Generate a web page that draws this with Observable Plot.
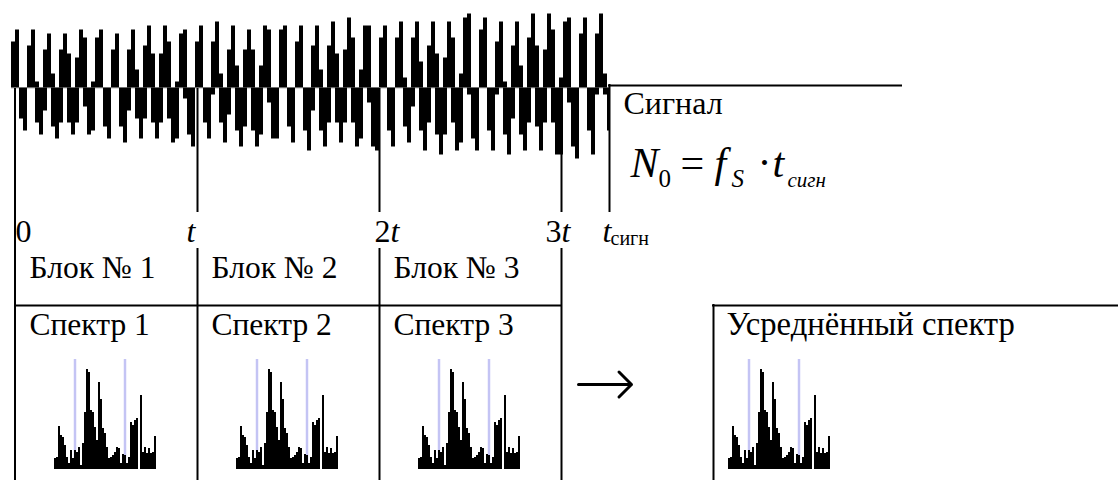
<!DOCTYPE html>
<html><head><meta charset="utf-8">
<script src="https://cdn.jsdelivr.net/npm/d3@7"></script>
<script src="https://cdn.jsdelivr.net/npm/@observablehq/plot@0.6"></script>
<style>html,body{margin:0;padding:0;background:#fff}svg{display:block}</style>
</head><body><div id="chart"></div>
<script>
// Signal: per-column extents (px above / below the zero line)
const signalUp = [46,58,0,0,42,58,6,0,38,54, 14,0,38,54,34,0,30,58,50,0, 6,50,58,0,0,38,54,0,0,38, 58,18,0,42,62,34,0,34,62,46, 0,6,54,58,0,0,46,62,0,0,
  46,66,14,0,38,62,22,0,38,58, 38,0,22,62,58,0,0,58,62,0, 0,46,62,0,0,42,62,18,0,42, 66,34,0,38,70,50,0,18,62,62, 0,0,50,62,0,0,50,66,10,0,
  50,66,26,0,42,66,34,0,30,66, 50,0,14,70,74,0,0,58,70,0, 0,46,66,6,0,42,66,22,0,50, 74,42,0,38,74,58,0,10,66,70, 0,0,54,70,0,0,54,74,14,0];
const signalDown = [0,0,31,43,0,0,35,47,23,0, 39,51,35,0,35,47,35,0,19,47, 43,0,0,39,51,0,0,39,55,23, 0,31,51,31,0,35,51,35,0,31, 55,51,0,11,47,59,0,0,35,51,
  7,0,35,55,27,0,43,59,39,0, 43,59,47,0,15,51,51,0,0,39, 55,0,0,43,63,23,0,43,59,35, 0,35,55,35,0,35,59,51,0,15, 59,63,0,0,43,59,0,0,39,55,
  19,0,43,63,35,0,47,67,47,0, 35,63,55,0,7,51,63,0,0,43, 63,7,0,47,67,31,0,47,63,35, 0,39,63,35,0,35,67,67,0,15, 59,71,0,0,43,67,7,0,7,43];
// Spectrum heights, in px above its base line
const spectrum = [11,12,43,34,32,24,12,6,19,11,19,17,22,4,26,57,100,97,59,57,42,29,87,70,41,36,22,11,12,14,17,22,21,6,15,14,6,12,47,44,49,51,0,74,17,22,16,21,16,17,33];
const spectrumOffsets = [54,236,418,728];
const markerOffsets = [20.5,70.5];

const signalLeft = 11, signalBase = 87.5, colW = 4, specBase = 469, specW = 2;

const rules = [
  {x:14.5,y1:88,y2:480},{x:197,y1:88,y2:212},{x:197,y1:248,y2:480},
  {x:379,y1:88,y2:212},{x:379,y1:248,y2:480},{x:561,y1:88,y2:212},{x:561,y1:248,y2:480},
  {x:609,y1:84,y2:212},{x:713,y1:304,y2:480}
];
const hRules = [
  {y:85,x1:608,x2:902},{y:305,x1:14,x2:561},{y:305,x1:712,x2:1118}
];
const arrows = [{x1:578,x2:631,y:384}];
const serif = "'Liberation Serif','Times New Roman',serif";
const labels = [
  {t:"Сигнал",x:623,y:113,s:32},
  {t:"0",x:15,y:241,s:32},{t:"t",x:186,y:241,s:32,i:1},
  {t:"2",x:374,y:241,s:32},{t:"t",x:390,y:241,s:32,i:1},
  {t:"3",x:545,y:241,s:32},{t:"t",x:561,y:241,s:32,i:1},
  {t:"t",x:602,y:241,s:32,i:1},{t:"сигн",x:610,y:244,s:20},
  {t:"Блок № 1",x:29,y:277,s:31.5},{t:"Блок № 2",x:211,y:277,s:31.5},{t:"Блок № 3",x:393,y:277,s:31.5},
  {t:"Спектр 1",x:29,y:334,s:31.5},{t:"Спектр 2",x:211,y:334,s:31.5},{t:"Спектр 3",x:393,y:334,s:31.5},
  {t:"Усреднённый спектр",x:726,y:334,s:32.7},
  {t:"N",x:630,y:176,s:42,i:1},{t:"0",x:658,y:186,s:25},
  {t:"=",x:680,y:176,s:42},{t:"f",x:714,y:176,s:42,i:1},{t:"S",x:731,y:186,s:25,i:1},
  {t:"·",x:757,y:176,s:42},{t:"t",x:772,y:176,s:42,i:1},{t:"сигн",x:787,y:186,s:21,i:1}
];

const up = signalUp.map((v,i)=>({i,v})).filter(d=>d.v>0);
const down = signalDown.map((v,i)=>({i,v})).filter(d=>d.v>0);
const specRows = spectrumOffsets.flatMap(o=>spectrum.map((v,i)=>({o,i,v})));
const markers = spectrumOffsets.flatMap(o=>markerOffsets.map(m=>({x:o+m})));
const colEnd = i=>Math.min(signalLeft+colW*(i+1),610);

const plot = Plot.plot({
  width:1118,height:480,margin:0,
  x:{domain:[0,1118],range:[0,1118],axis:null},
  y:{domain:[0,480],range:[0,480],axis:null},
  style:{background:"#fff"},
  marks:[
    Plot.ruleY([signalBase],{x1:signalLeft,x2:609,stroke:"#bbb",strokeWidth:1}),
    Plot.rect(up,{x1:d=>signalLeft+colW*d.i,x2:d=>colEnd(d.i),y1:d=>signalBase-d.v,y2:signalBase,fill:"#000"}),
    Plot.rect(down,{x1:d=>signalLeft+colW*d.i,x2:d=>colEnd(d.i),y1:signalBase,y2:d=>signalBase+d.v,fill:"#000"}),
    Plot.ruleX(markers,{x:"x",y1:359,y2:specBase,stroke:"#c4c4f4",strokeWidth:2.5}),
    Plot.rect(specRows,{x1:d=>d.o+specW*d.i,x2:d=>d.o+specW*(d.i+1),y1:d=>specBase-d.v,y2:specBase,fill:"#000"}),
    Plot.ruleX(rules,{x:"x",y1:"y1",y2:"y2",stroke:"#000",strokeWidth:2}),
    Plot.ruleY(hRules,{y:"y",x1:"x1",x2:"x2",stroke:"#000",strokeWidth:2}),
    Plot.arrow(arrows,{x1:"x1",x2:"x2",y1:"y",y2:"y",stroke:"#000",strokeWidth:3,headLength:9,headAngle:90}),
    Plot.text(labels.filter(d=>!d.i),{x:"x",y:"y",text:"t",fontSize:"s",textAnchor:"start",lineAnchor:"bottom",fontFamily:serif,fill:"#000"}),
    Plot.text(labels.filter(d=>d.i),{x:"x",y:"y",text:"t",fontSize:"s",textAnchor:"start",lineAnchor:"bottom",fontFamily:serif,fontStyle:"italic",fill:"#000"})
  ]
});
document.getElementById("chart").append(plot);
</script></body></html>
